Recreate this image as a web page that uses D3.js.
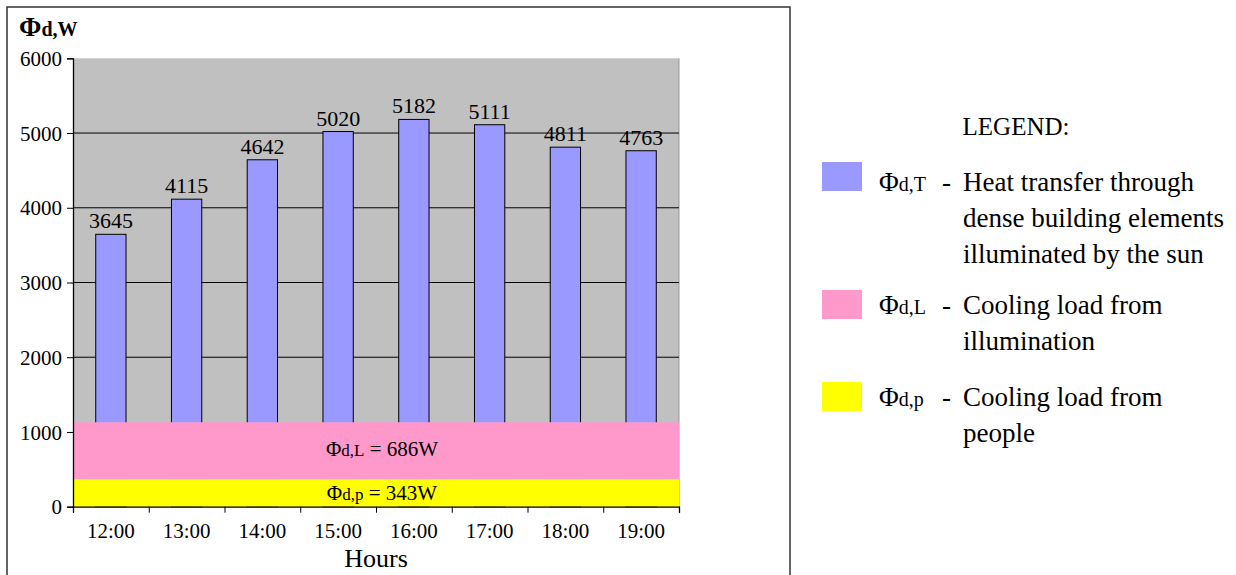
<!DOCTYPE html>
<html><head><meta charset="utf-8">
<script src="https://cdn.jsdelivr.net/npm/d3@7"></script>
<style>
html,body{margin:0;padding:0;background:#fff;}
svg{display:block;font-family:"Liberation Serif","Times New Roman",serif;}
</style></head>
<body><svg id="c" width="1236" height="575"></svg>
<script>
// ---- data ----
const hours = ["12:00","13:00","14:00","15:00","16:00","17:00","18:00","19:00"];
const heatTransfer = [3645,4115,4642,5020,5182,5111,4811,4763];
const yTicks = [0,1000,2000,3000,4000,5000,6000];
// constant loads (label values) and the band extents as drawn in the picture
const bandNames = ["p","L"];
const bandValues = [343,686];
const bandLow = [0,370];
const bandHigh = [370,1130];
const bandColors = ["#ffff00","#ff99cc"];
const legendSymbols = ["T","L","p"];
const legendLines = [
  ["Heat transfer through","dense building elements","illuminated by the sun"],
  ["Cooling load from","illumination"],
  ["Cooling load from","people"]
];
const legendColors = ["#9999ff","#ff99cc","#ffff00"];

const svg = d3.select("#c");
const SERIF = "Liberation Serif";
// outer frame
svg.append("rect").attr("x",7).attr("y",7).attr("width",783).attr("height",600)
  .attr("fill","none").attr("stroke","#333").attr("stroke-width",1.5);

const L=73, R=679, T=58.3, B=506.7;
const x = d3.scaleBand().domain(hours).range([L,R]).paddingInner(0.6).paddingOuter(0.3);
const xb = d3.scaleLinear().domain([0,hours.length]).range([L,R]);
const y = d3.scaleLinear().domain([0,6000]).range([B,T]);

// plot background
svg.append("rect").attr("x",L).attr("y",T).attr("width",R-L).attr("height",B-T).attr("fill","#c0c0c0");
svg.append("line").attr("x1",R).attr("x2",R).attr("y1",T).attr("y2",B).attr("stroke","#999").attr("stroke-width",1);
// gridlines
svg.append("g").selectAll("line").data(yTicks.filter(d=>d>0 && d<6000)).join("line")
  .attr("x1",L).attr("x2",R).attr("y1",d=>y(d)).attr("y2",d=>y(d))
  .attr("stroke","#000").attr("stroke-width",1);

// bars
svg.append("g").selectAll("rect").data(heatTransfer).join("rect")
  .attr("x",(d,i)=>x(hours[i])).attr("width",x.bandwidth())
  .attr("y",d=>y(d)).attr("height",d=>B-y(d))
  .attr("fill","#9999ff").attr("stroke","#000").attr("stroke-width",1);
svg.append("g").selectAll("text").data(heatTransfer).join("text")
  .attr("x",(d,i)=>x(hours[i])+x.bandwidth()/2).attr("y",d=>y(d)-6)
  .attr("text-anchor","middle").attr("font-family",SERIF).attr("font-size",22).attr("fill","#000").text(d=>d);

// bands
svg.append("g").selectAll("rect").data(bandValues).join("rect")
  .attr("x",L).attr("width",R-L)
  .attr("y",(d,i)=>y(bandHigh[i])).attr("height",(d,i)=>y(bandLow[i])-y(bandHigh[i]))
  .attr("fill",(d,i)=>bandColors[i]);
const bl = svg.append("g").selectAll("text").data(bandValues).join("text")
  .attr("x",(L+R)/2+6).attr("y",(d,i)=>(y(bandLow[i])+y(bandHigh[i]))/2+(i===1?5:7))
  .attr("text-anchor","middle").attr("font-family",SERIF).attr("font-size",21).attr("fill","#000");
bl.append("tspan").text("Φ");
bl.append("tspan").attr("font-size",17).text((d,i)=>"d,"+bandNames[i]);
bl.append("tspan").text(d=>" = "+d+"W");

// y axis
const ya = svg.append("g").attr("transform",`translate(${L},0)`)
  .call(d3.axisLeft(y).tickValues(yTicks).tickSize(6).tickPadding(5).tickFormat(d3.format("d")));
ya.select(".domain").attr("stroke","#000").attr("stroke-width",1.3);
ya.selectAll("line").attr("stroke","#000");
ya.selectAll("text").attr("font-size",21).attr("font-family",SERIF).attr("fill","#000").attr("dy","0.34em");

// x axis
const xa = svg.append("g").attr("transform",`translate(0,${B})`)
  .call(d3.axisBottom(xb).tickValues(d3.range(hours.length+1)).tickSize(6).tickFormat(""));
xa.select(".domain").attr("stroke","#000").attr("stroke-width",1.3);
xa.selectAll("line").attr("stroke","#000");
svg.append("g").selectAll("text").data(hours).join("text")
  .attr("x",d=>x(d)+x.bandwidth()/2).attr("y",538)
  .attr("text-anchor","middle").attr("font-family",SERIF).attr("font-size",21).attr("fill","#000").text(d=>d);
svg.append("text").attr("x",(L+R)/2).attr("y",567).attr("text-anchor","middle")
  .attr("font-family",SERIF).attr("font-size",26).attr("fill","#000").text("Hours");

// y title
const yt = svg.append("text").attr("x",19).attr("y",36).attr("font-family",SERIF).attr("font-weight","bold").attr("fill","#000");
yt.append("tspan").attr("font-size",27).text("Φ");
yt.append("tspan").attr("font-size",20).text("d,W");

// legend
svg.append("text").attr("x",1016).attr("y",135).attr("text-anchor","middle")
  .attr("font-family",SERIF).attr("font-size",25).attr("fill","#000").text("LEGEND:");
const rowY = [191,314,406];
const swY = [162,290,382];
const lg = svg.append("g").selectAll("g").data(legendSymbols).join("g");
lg.append("rect").attr("x",822).attr("y",(d,i)=>swY[i]).attr("width",40).attr("height",29)
  .attr("fill",(d,i)=>legendColors[i]);
const sym = lg.append("text").attr("x",879).attr("y",(d,i)=>rowY[i]).attr("font-family",SERIF).attr("font-size",27).attr("fill","#000");
sym.append("tspan").text("Φ");
sym.append("tspan").attr("font-size",20).text(d=>"d,"+d);
lg.append("text").attr("x",942).attr("y",(d,i)=>rowY[i]).attr("font-family",SERIF).attr("font-size",27).attr("fill","#000").text("-");
lg.each(function(d,i){
  d3.select(this).selectAll("text.ln").data(legendLines[i]).join("text").attr("class","ln")
    .attr("x",963).attr("y",(t,j)=>rowY[i]+j*36).attr("font-family",SERIF).attr("font-size",27).attr("fill","#000").text(t=>t);
});
</script></body></html>
